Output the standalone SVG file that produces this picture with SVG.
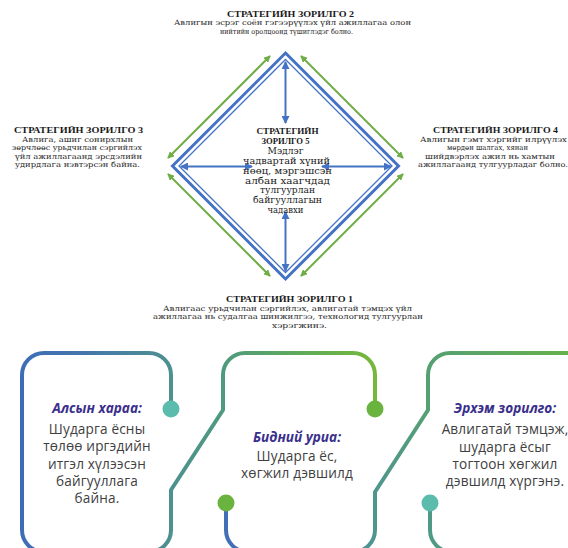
<svg xmlns="http://www.w3.org/2000/svg" width="568" height="548" viewBox="0 0 568 548">
<style>
.tt{font-family:"Liberation Serif","DejaVu Serif",serif;font-weight:bold;font-size:8.8px;fill:#1a1a1a;text-anchor:middle}
.tb{font-family:"DejaVu Serif","Liberation Serif",serif;font-size:7.2px;fill:#1a1a1a;text-anchor:middle}
.tc{font-family:"DejaVu Serif","Liberation Serif",serif;font-size:8.5px;fill:#1a1a1a;text-anchor:middle}
.ph{font-family:"Open Sans","Noto Sans",sans-serif;font-size:13.6px;font-weight:bold;font-style:italic;fill:#3a2f8c;text-anchor:middle}
.pb{font-family:"Open Sans","Noto Sans",sans-serif;font-size:13.6px;letter-spacing:0.15px;fill:#404040;text-anchor:middle}
.ga{stroke:#70ad47;stroke-width:2;fill:none;marker-start:url(#gh);marker-end:url(#gh)}
.ba{stroke:#4472c4;stroke-width:2;fill:none;marker-start:url(#bh);marker-end:url(#bh)}
.pl{fill:none;stroke-width:4;stroke-linejoin:round;stroke-linecap:round}
</style>
<defs>
<marker id="gh" viewBox="0 0 8 8" refX="7" refY="4" markerWidth="7" markerHeight="7" markerUnits="userSpaceOnUse" orient="auto-start-reverse"><path d="M0,0 L8,4 L0,8 z" fill="#70ad47"/></marker>
<marker id="bh" viewBox="0 0 8 8" refX="7" refY="4" markerWidth="8" markerHeight="8" markerUnits="userSpaceOnUse" orient="auto-start-reverse"><path d="M0,0 L8,4 L0,8 z" fill="#4472c4"/></marker>
<linearGradient id="gA" gradientUnits="userSpaceOnUse" x1="22" y1="0" x2="375" y2="0">
<stop offset="0" stop-color="#3e6db6"/><stop offset="0.15" stop-color="#4274ae"/><stop offset="0.42" stop-color="#4d9090"/><stop offset="0.57" stop-color="#4f9a7e"/><stop offset="0.8" stop-color="#5fab58"/><stop offset="1" stop-color="#76b83a"/>
</linearGradient>
<linearGradient id="gB" gradientUnits="userSpaceOnUse" x1="226" y1="0" x2="568" y2="0">
<stop offset="0" stop-color="#4170b6"/><stop offset="0.43" stop-color="#4f9590"/><stop offset="0.6" stop-color="#55a072"/><stop offset="1" stop-color="#66b04c"/>
</linearGradient>
<linearGradient id="gC" gradientUnits="userSpaceOnUse" x1="430" y1="0" x2="568" y2="0">
<stop offset="0" stop-color="#4e9a86"/><stop offset="1" stop-color="#5aa86a"/>
</linearGradient>
</defs>
<rect width="568" height="548" fill="#ffffff"/>

<g id="diamond">
<polygon points="285.5,53 398.5,166 285.5,279 172.5,166" fill="none" stroke="#4472c4" stroke-width="3"/>
<polygon points="285.5,59.5 392,166 285.5,272.5 179,166" fill="none" stroke="#4472c4" stroke-width="1.3"/>
</g>

<g id="connectors">
<line class="ga" x1="168" y1="158" x2="270" y2="56"/>
<line class="ga" x1="301" y1="56" x2="403" y2="158"/>
<line class="ga" x1="168" y1="174" x2="270" y2="276"/>
<line class="ga" x1="301" y1="276" x2="403" y2="174"/>
<line class="ba" x1="285.5" y1="62" x2="285.5" y2="123"/>
<line class="ba" x1="285.5" y1="212" x2="285.5" y2="271"/>
<line class="ba" x1="181" y1="166.5" x2="252" y2="166.5"/>
<line class="ba" x1="322" y1="166.5" x2="391" y2="166.5"/>
</g>

<g id="strategy-5">
<text class="tt" x="287.5" y="134" textLength="62" lengthAdjust="spacingAndGlyphs">СТРАТЕГИЙН</text>
<text class="tt" x="285.5" y="144" textLength="48" lengthAdjust="spacingAndGlyphs">ЗОРИЛГО 5</text>
<text class="tc" x="285.5" y="154" textLength="36" lengthAdjust="spacingAndGlyphs">Мэдлэг</text>
<text class="tc" x="286.5" y="164" textLength="87" lengthAdjust="spacingAndGlyphs">чадвартай хүний</text>
<text class="tc" x="287.5" y="173.8" textLength="89" lengthAdjust="spacingAndGlyphs">нөөц, мэргэшсэн</text>
<text class="tc" x="287.5" y="183.6" textLength="85" lengthAdjust="spacingAndGlyphs">албан хаагчдад</text>
<text class="tc" x="287.5" y="193.4" textLength="55" lengthAdjust="spacingAndGlyphs">тулгуурлан</text>
<text class="tc" x="287.5" y="203.4" textLength="69" lengthAdjust="spacingAndGlyphs">байгууллагын</text>
<text class="tc" x="285.5" y="213.4" textLength="36" lengthAdjust="spacingAndGlyphs">чадавхи</text>
</g>

<g id="strategy-2">
<text class="tt" x="290.5" y="16.5" textLength="127" lengthAdjust="spacingAndGlyphs">СТРАТЕГИЙН ЗОРИЛГО 2</text>
<text class="tb" x="292.5" y="25.2" textLength="237" lengthAdjust="spacingAndGlyphs">Авлигын эсрэг соён гэгээрүүлэх үйл ажиллагаа олон</text>
<text class="tb" x="286.5" y="33.6" textLength="133" lengthAdjust="spacingAndGlyphs">нийтийн оролцоонд түшиглэдэг болно.</text>
</g>

<g id="strategy-3">
<text class="tt" x="78.5" y="133" textLength="129" lengthAdjust="spacingAndGlyphs">СТРАТЕГИЙН ЗОРИЛГО 3</text>
<text class="tb" x="77.5" y="142" textLength="111" lengthAdjust="spacingAndGlyphs">Авлига, ашиг сонирхлын</text>
<text class="tb" x="77" y="150.4" textLength="130" lengthAdjust="spacingAndGlyphs">зөрчлөөс урьдчилан сэргийлэх</text>
<text class="tb" x="78.5" y="158.8" textLength="127" lengthAdjust="spacingAndGlyphs">үйл ажиллагаанд эрсдэлийн</text>
<text class="tb" x="77.5" y="167.2" textLength="125" lengthAdjust="spacingAndGlyphs">удирдлага нэвтэрсэн байна.</text>
</g>

<g id="strategy-4">
<text class="tt" x="495.5" y="133" textLength="125" lengthAdjust="spacingAndGlyphs">СТРАТЕГИЙН ЗОРИЛГО 4</text>
<text class="tb" x="493.5" y="142" textLength="147" lengthAdjust="spacingAndGlyphs">Авлигын гэмт хэргийг илрүүлэх</text>
<text class="tb" x="487.5" y="150.4" textLength="81" lengthAdjust="spacingAndGlyphs">мөрдөн шалгах, хянан</text>
<text class="tb" x="490" y="158.8" textLength="130" lengthAdjust="spacingAndGlyphs">шийдвэрлэх ажил нь хамтын</text>
<text class="tb" x="493" y="167.2" textLength="150" lengthAdjust="spacingAndGlyphs">ажиллагаанд тулгуурладаг болно.</text>
</g>

<g id="strategy-1">
<text class="tt" x="289.5" y="302" textLength="127" lengthAdjust="spacingAndGlyphs">СТРАТЕГИЙН ЗОРИЛГО 1</text>
<text class="tb" x="287.5" y="311" textLength="249" lengthAdjust="spacingAndGlyphs">Авлигаас урьдчилан сэргийлэх, авлигатай тэмцэх үйл</text>
<text class="tb" x="288" y="319.4" textLength="270" lengthAdjust="spacingAndGlyphs">ажиллагаа нь судалгаа шинжилгээ, технологид тулгуурлан</text>
<text class="tb" x="299.5" y="327.8" textLength="55" lengthAdjust="spacingAndGlyphs">хэрэгжинэ.</text>
</g>

<g id="panel-lines">
<path class="pl" stroke="url(#gA)" d="M171,409 V375 A22,22 0 0 0 149,353 H44 A22,22 0 0 0 22,375 V530 A22,22 0 0 0 44,552 H149 A22,22 0 0 0 171,530 V490 L223,410 V375 A22,22 0 0 1 245,353 H353 A22,22 0 0 1 375,375 V409"/>
<path class="pl" stroke="url(#gB)" d="M226,503 V530 A22,22 0 0 0 248,552 H353 A22,22 0 0 0 375,530 V492 L428,410 V375 A22,22 0 0 1 450,353 H580"/>
<path class="pl" stroke="url(#gC)" d="M430,503 V530 A22,22 0 0 0 452,552 H580"/>
<circle cx="171" cy="409" r="8.5" fill="#5bbcae"/>
<circle cx="375" cy="409" r="8.5" fill="#6ab33e"/>
<circle cx="226" cy="503" r="8.5" fill="#6ab33e"/>
<circle cx="430" cy="503" r="8.5" fill="#5bbcae"/>
</g>

<g id="vision">
<text class="ph" x="97" y="413">Алсын хараа:</text>
<text class="pb" x="97" y="434">Шударга ёсны</text>
<text class="pb" x="97" y="451.3">төлөө иргэдийн</text>
<text class="pb" x="97" y="468.6">итгэл хүлээсэн</text>
<text class="pb" x="97" y="485.9">байгууллага</text>
<text class="pb" x="97" y="503.2">байна.</text>
</g>

<g id="motto">
<text class="ph" x="297" y="441.5">Бидний уриа:</text>
<text class="pb" x="297" y="461">Шударга ёс,</text>
<text class="pb" x="297" y="478.3">хөгжил дэвшилд</text>
</g>

<g id="mission">
<text class="ph" x="505" y="413">Эрхэм зорилго:</text>
<text class="pb" x="505" y="434.3">Авлигатай тэмцэж,</text>
<text class="pb" x="505" y="451.6">шударга ёсыг</text>
<text class="pb" x="505" y="468.9">тогтоон хөгжил</text>
<text class="pb" x="505" y="486.2">дэвшилд хүргэнэ.</text>
</g>
</svg>
